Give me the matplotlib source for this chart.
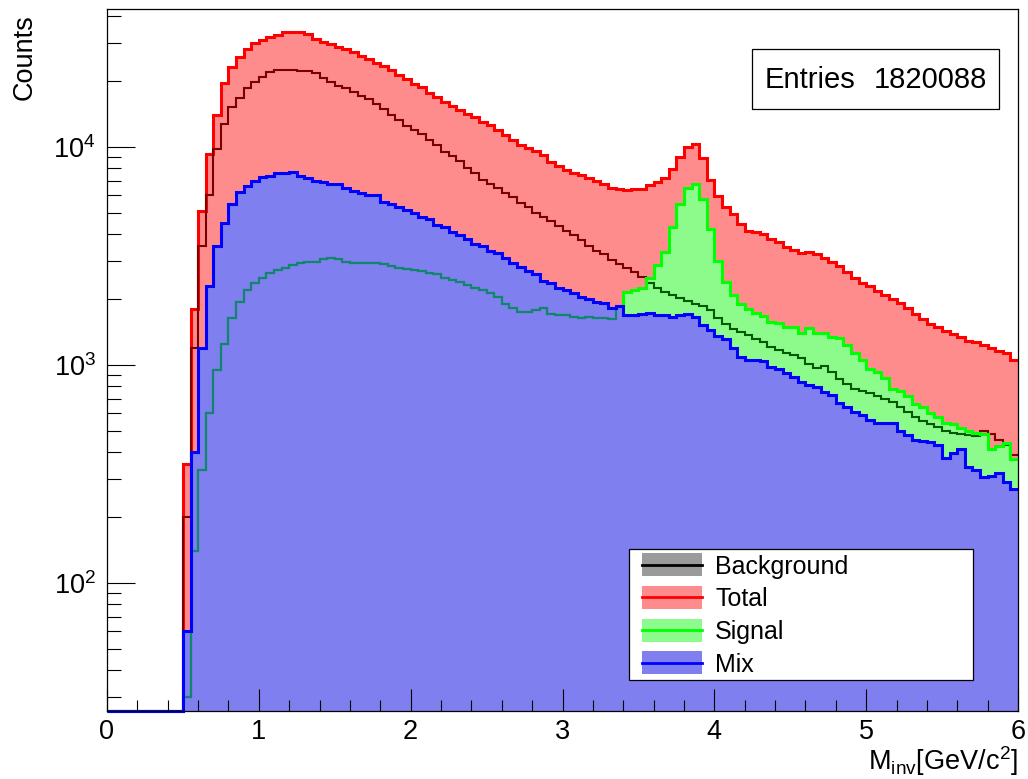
import matplotlib
matplotlib.use("Agg")
import numpy as np
import matplotlib.pyplot as plt
from matplotlib.patches import Rectangle
from matplotlib.lines import Line2D
from matplotlib.ticker import (LogLocator, MultipleLocator, NullFormatter,
                               FuncFormatter)

plt.rcParams['font.family'] = ['Liberation Sans', 'DejaVu Sans']
plt.rcParams['mathtext.fontset'] = 'custom'
plt.rcParams['mathtext.rm'] = 'Liberation Sans'
plt.rcParams['mathtext.it'] = 'Liberation Sans:italic'
plt.rcParams['mathtext.bf'] = 'Liberation Sans:bold'
plt.rcParams['mathtext.default'] = 'regular'

# ---------------------------------------------------------------- data
# invariant-mass histogram, 0.05 GeV/c^2 bins from 0 to 6
bin_edges = np.linspace(0.0, 6.0, 121)
n_empty = 10  # bins below 0.5 GeV/c^2 are empty

total = [0] * n_empty + [
    350, 1800, 5100, 9300, 14000, 19700, 23200, 25800, 28300, 30000,
    31000, 32000, 32500, 33600, 33800, 33700, 33000, 31200, 30400, 29700,
    28800, 28100, 27300, 26200, 25300, 24300, 23500, 22500, 21400, 20500,
    19500, 18800, 17700, 17000, 16100, 15400, 14800, 14200, 13700, 13000,
    12600, 12000, 11400, 10800, 10200, 9900, 9600, 9200, 8540, 8180,
    7840, 7600, 7440, 7200, 6990, 6770, 6480, 6420, 6380, 6450,
    6400, 6700, 6900, 7200, 7900, 9000, 10000, 10300, 8900, 7060,
    5970, 5300, 4930, 4440, 4120, 4080, 3990, 3780, 3660, 3480,
    3370, 3270, 3300, 3230, 3100, 2970, 2850, 2670, 2500, 2380,
    2300, 2190, 2100, 2010, 1930, 1830, 1720, 1620, 1550, 1490,
    1430, 1390, 1340, 1290, 1270, 1240, 1200, 1160, 1130, 1055]

background = [0] * n_empty + [
    200, 1200, 3500, 6000, 9800, 12800, 15200, 16800, 18700, 19900,
    21000, 22100, 22500, 22500, 22600, 22400, 22200, 21900, 20800, 19900,
    19100, 18700, 17900, 17100, 16600, 15750, 14950, 14000, 13300, 12500,
    12000, 11500, 10800, 10200, 9500, 9100, 8630, 8000, 7600, 7060,
    6770, 6480, 6150, 5900, 5540, 5300, 4980, 4770, 4580, 4350,
    4120, 3950, 3740, 3520, 3330, 3230, 3030, 2900, 2790, 2670,
    2530, 2380, 2260, 2170, 2100, 2030, 1970, 1910, 1870, 1790,
    1640, 1550, 1460, 1420, 1370, 1320, 1280, 1210, 1170, 1140,
    1110, 1080, 1010, 970, 990, 930, 860, 820, 780, 760,
    745, 720, 700, 675, 645, 610, 580, 555, 537, 520,
    500, 490, 485, 478, 473, 500, 485, 453, 430, 387]

signal = [0] * n_empty + [
    30, 140, 330, 600, 950, 1250, 1650, 1950, 2200, 2380,
    2520, 2650, 2730, 2800, 2880, 2950, 2970, 2970, 3050, 3100,
    3050, 2980, 2930, 2950, 2950, 2950, 2900, 2850, 2800, 2760,
    2720, 2700, 2650, 2620, 2500, 2450, 2400, 2320, 2260, 2200,
    2150, 2060, 1900, 1820, 1760, 1750, 1780, 1820, 1720, 1700,
    1690, 1660, 1640, 1660, 1640, 1650, 1620, 1850, 2170, 2210,
    2250, 2500, 2880, 3300, 4300, 5500, 6500, 6800, 5800, 4200,
    3000, 2400, 2100, 1900, 1800, 1730, 1680, 1580, 1560, 1500,
    1500, 1400, 1480, 1400, 1400, 1340, 1330, 1230, 1140, 1060,
    960, 930, 870, 780, 760, 720, 660, 640, 600, 580,
    545, 535, 515, 500, 490, 485, 410, 425, 440, 370]

mix = [0] * n_empty + [
    60, 400, 1200, 2300, 3500, 4500, 5500, 6200, 6600, 7000,
    7250, 7400, 7600, 7600, 7650, 7400, 7200, 6950, 6900, 6800,
    6750, 6500, 6300, 6150, 6050, 6000, 5600, 5500, 5300, 5150,
    4980, 4800, 4700, 4400, 4300, 4080, 3950, 3800, 3600, 3500,
    3330, 3250, 3100, 2950, 2820, 2700, 2620, 2420, 2380, 2260,
    2220, 2150, 2060, 2010, 1950, 1920, 1830, 1870, 1700, 1690,
    1720, 1730, 1700, 1690, 1660, 1700, 1720, 1660, 1520, 1450,
    1360, 1310, 1200, 1090, 1050, 1060, 1040, 980, 960, 920,
    880, 840, 810, 790, 750, 730, 670, 640, 610, 590,
    560, 540, 545, 545, 500, 478, 455, 450, 445, 430,
    375, 395, 410, 340, 330, 305, 310, 320, 290, 270]

n_entries = 1820088
legend_labels = ["Background", "Total", "Signal", "Mix"]

# ---------------------------------------------------------------- style
YMIN, YMAX = 25.9, 42950.0
RED, RED_FILL = "#ff0000", "#ff8c8c"
GREEN, GREEN_FILL = "#00ff00", "#8cfb8c"
BLUE, BLUE_FILL = "#0000ff", "#7f7ff0"
BKG_ON_RED = "#7a0000"
BKG_ON_GREEN = "#005a00"
SIG_ON_BLUE = "#10876a"
LW = 2.2

W, H = 1028, 779
fig = plt.figure(figsize=(W / 100, H / 100), dpi=100)
ax = fig.add_axes([107 / W, 1 - 711 / H, 911 / W, 702 / H])
ax.set_yscale("log")
ax.set_xlim(0, 6)
ax.set_ylim(YMIN, YMAX)


def floored(values):
    # empty bins are drawn on the lower edge of the frame
    return np.maximum(np.asarray(values, dtype=float), YMIN)


tot_d, bkg_d, sig_d, mix_d = map(floored, (total, background, signal, mix))

# Total
ax.stairs(tot_d, bin_edges, fill=True, baseline=YMIN, color=RED_FILL,
          lw=0, zorder=1)
ax.stairs(tot_d, bin_edges, baseline=None, color=RED, lw=LW, zorder=2,
          clip_on=False)
# Background outline
ax.stairs(bkg_d, bin_edges, baseline=None, color=BKG_ON_RED, lw=1.5,
          zorder=3, clip_on=False)
# Signal
sig_fill = ax.stairs(sig_d, bin_edges, fill=True, baseline=YMIN,
                     color=GREEN_FILL, lw=0, zorder=4)
bkg_in_sig = ax.stairs(bkg_d, bin_edges, baseline=None, color=BKG_ON_GREEN,
                       lw=1.5, zorder=5)
bkg_in_sig.set_clip_path(sig_fill)
ax.stairs(sig_d, bin_edges, baseline=None, color=GREEN, lw=LW, zorder=6,
          clip_on=False)
# Mix
mix_fill = ax.stairs(mix_d, bin_edges, fill=True, baseline=YMIN,
                     color=BLUE_FILL, lw=0, zorder=7)
sig_in_mix = ax.stairs(sig_d, bin_edges, baseline=None, color=SIG_ON_BLUE,
                       lw=1.6, zorder=8)
sig_in_mix.set_clip_path(mix_fill)
ax.stairs(mix_d, bin_edges, baseline=None, color=BLUE, lw=LW, zorder=9,
          clip_on=False)

# ---------------------------------------------------------------- axes
for side in ("left", "bottom", "right", "top"):
    ax.spines[side].set_linewidth(0.9)
    ax.spines[side].set_zorder(12)
ax.xaxis.set_zorder(11)
ax.yaxis.set_zorder(11)

ax.xaxis.set_major_locator(MultipleLocator(1))
ax.xaxis.set_minor_locator(MultipleLocator(0.2))
ax.yaxis.set_major_locator(LogLocator(base=10, numticks=10))
ax.yaxis.set_minor_locator(LogLocator(base=10, subs=np.arange(2, 10),
                                      numticks=20))
ax.yaxis.set_minor_formatter(NullFormatter())
ax.yaxis.set_major_formatter(
    FuncFormatter(lambda v, _: r"$10^{%d}$" % round(np.log10(v))))
ax.xaxis.set_major_formatter(FuncFormatter(lambda v, _: "%d" % round(v)))

ax.tick_params(axis="x", which="major", direction="in", length=16,
               width=0.8, labelsize=19.5, pad=6, top=False)
ax.tick_params(axis="x", which="minor", direction="in", length=8,
               width=0.8, top=False)
ax.tick_params(axis="y", which="major", direction="in", length=20,
               width=0.8, labelsize=19.5, pad=8, right=False)
ax.tick_params(axis="y", which="minor", direction="in", length=10,
               width=0.8, right=False)

ax.set_xlabel(r"M$_{inv}$[GeV/c$^{2}$]", fontsize=19.5, loc="right")
ax.xaxis.set_label_coords(1.0, -0.047)
ax.xaxis.label.set_va("top")
ax.set_ylabel("Counts", fontsize=19.5, loc="top")
ax.yaxis.set_label_coords(-0.076, 0.992)


# ---------------------------------------------------------------- boxes
def fx(px):
    return px / W


def fy(py):
    return 1 - py / H


# statistics box
fig.add_artist(Rectangle((fx(752), fy(109)), fx(999) - fx(752),
                         fy(49) - fy(109), transform=fig.transFigure,
                         facecolor="white", edgecolor="black", lw=0.9,
                         zorder=20))
fig.text(fx(765), fy(80), "Entries", fontsize=21, ha="left", va="center",
         zorder=21)
fig.text(fx(987), fy(80), "%d" % n_entries, fontsize=21, ha="right",
         va="center", zorder=21)

# legend box
fig.add_artist(Rectangle((fx(629), fy(680)), fx(973) - fx(629),
                         fy(549) - fy(680), transform=fig.transFigure,
                         facecolor="white", edgecolor="black", lw=0.9,
                         zorder=20))
legend_style = [("#9a9a9a", "black"), (RED_FILL, RED),
                (GREEN_FILL, GREEN), (BLUE_FILL, BLUE)]
row_y = [564.5, 597, 630, 662.5]
for label, (face, edge), yc in zip(legend_labels, legend_style, row_y):
    fig.add_artist(Rectangle((fx(642), fy(yc + 11.5)), fx(702) - fx(642),
                             fy(yc - 11.5) - fy(yc + 11.5),
                             transform=fig.transFigure, facecolor=face,
                             edgecolor="none", zorder=21))
    fig.add_artist(Line2D([fx(642), fx(702)], [fy(yc), fy(yc)],
                          transform=fig.transFigure, color=edge, lw=2.0,
                          zorder=22))
    fig.text(fx(715), fy(yc), label, fontsize=18, ha="left",
             va="center_baseline", zorder=22)

fig.savefig("out.png", dpi=100)
